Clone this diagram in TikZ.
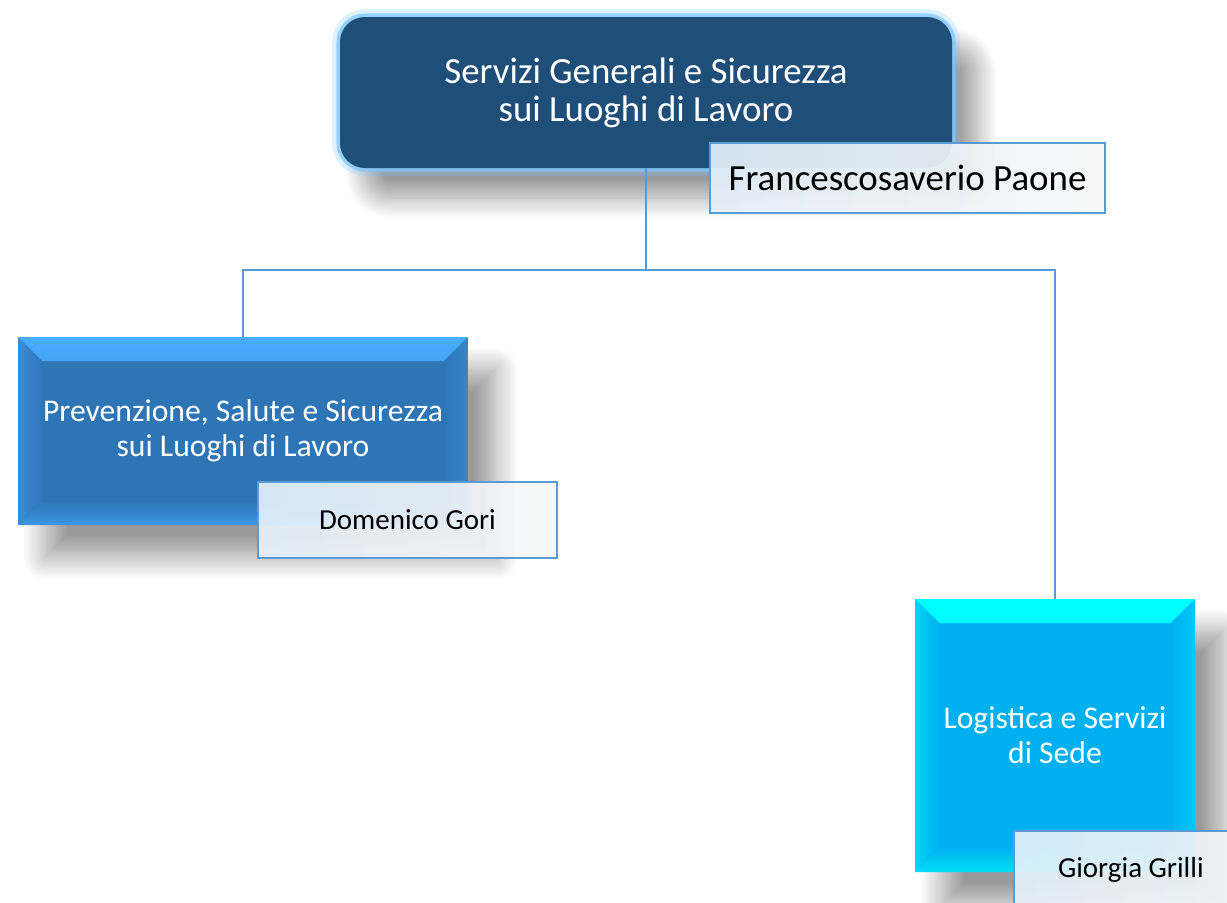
\documentclass[tikz,border=0pt]{standalone}
\usepackage{fontspec}
\setmainfont{Carlito}
\usetikzlibrary{shadows.blur}

\definecolor{navy}{HTML}{1F4E79}
\definecolor{glowblue}{HTML}{7DC6FF}
\definecolor{midblue}{HTML}{2E75B6}
\definecolor{midhigh}{HTML}{48ACFF}
\definecolor{skyblue}{HTML}{00B0F0}
\definecolor{skyhigh}{HTML}{00FFFF}
\definecolor{linkblue}{HTML}{5B9BD5}
\definecolor{namefill}{HTML}{E4F0FA}
\definecolor{nameend}{HTML}{F7F7F7}

\tikzset{
  headbox/.style={rounded corners=0.5cm, fill=navy, text=white, align=center,
    font=\fontsize{21}{21.6}\selectfont,
    blur shadow={shadow xshift=0.5cm, shadow yshift=-0.6cm, shadow blur radius=0.4cm, shadow blur steps=20, shadow opacity=40},
    preaction={draw=glowblue, line width=9pt, draw opacity=0.25},
    preaction={draw=glowblue, line width=4pt, draw opacity=0.75}},
  bevelbox/.style 2 args={fill=#1, text=white, align=center,
    font=\fontsize{18}{20}\selectfont,
    blur shadow={shadow xshift=0.55cm, shadow yshift=-0.65cm, shadow blur radius=0.45cm, shadow blur steps=20, shadow opacity=40},
    path picture={
      \shade [top color=#2, bottom color=#1] (path picture bounding box.north west) -- (path picture bounding box.north east) -- ([shift={(-0.48,-0.48)}]path picture bounding box.north east) -- ([shift={(0.48,-0.48)}]path picture bounding box.north west) -- cycle;
      \shade [top color=#1, bottom color=#2!60!#1] (path picture bounding box.south west) -- (path picture bounding box.south east) -- ([shift={(-0.48,0.48)}]path picture bounding box.south east) -- ([shift={(0.48,0.48)}]path picture bounding box.south west) -- cycle;
      \shade [left color=#2!45!#1, right color=#1] (path picture bounding box.north west) -- ([shift={(0.48,-0.48)}]path picture bounding box.north west) -- ([shift={(0.48,0.48)}]path picture bounding box.south west) -- (path picture bounding box.south west) -- cycle;
      \shade [left color=#1, right color=#2!30!#1] (path picture bounding box.north east) -- (path picture bounding box.south east) -- ([shift={(-0.48,0.48)}]path picture bounding box.south east) -- ([shift={(-0.48,-0.48)}]path picture bounding box.north east) -- cycle;
    }},
  namebox/.style={draw=linkblue, line width=1.1pt, left color=namefill, right color=nameend,
    fill opacity=0.92, text opacity=1, text=black},
  link/.style={draw=linkblue, line width=0.7pt}
}

\begin{document}
\begin{tikzpicture}

\useasboundingbox (0,0) rectangle (24.54,-18.04);

\node (top) at (12.92,-1.85) [headbox,minimum width=12.24cm,minimum height=3.02cm] {Servizi Generali e Sicurezza\\sui Luoghi di Lavoro};
\node (paone) at (18.15,-3.56) [namebox,minimum width=7.9cm,minimum height=1.4cm,font=\fontsize{21}{24}\selectfont] {Francescosaverio Paone};

\node (prev) at (4.86,-8.62) [bevelbox={midblue}{midhigh},minimum width=9cm,minimum height=3.76cm] {Prevenzione, Salute e Sicurezza\\sui Luoghi di Lavoro};
\node (gori) at (8.15,-10.4) [namebox,minimum width=5.98cm,minimum height=1.52cm,font=\fontsize{16.5}{19}\selectfont] {Domenico Gori};

\node (logi) at (21.1,-14.71) [bevelbox={skyblue}{skyhigh},minimum width=5.6cm,minimum height=5.46cm] {Logistica e Servizi\\di Sede};
\node (grilli) at (23.28,-17.39) [namebox,minimum width=6cm,minimum height=1.54cm,inner xsep=0.88cm,text width=4.24cm,align=flush left,font=\fontsize{16.5}{19}\selectfont] {Giorgia Grilli};

\coordinate (bus) at (0,-5.4);
\draw [link] (top.south) -- (top.south |- bus) -| (prev.north);
\draw [link] (top.south |- bus) -| (logi.north);

\end{tikzpicture}
\end{document}
